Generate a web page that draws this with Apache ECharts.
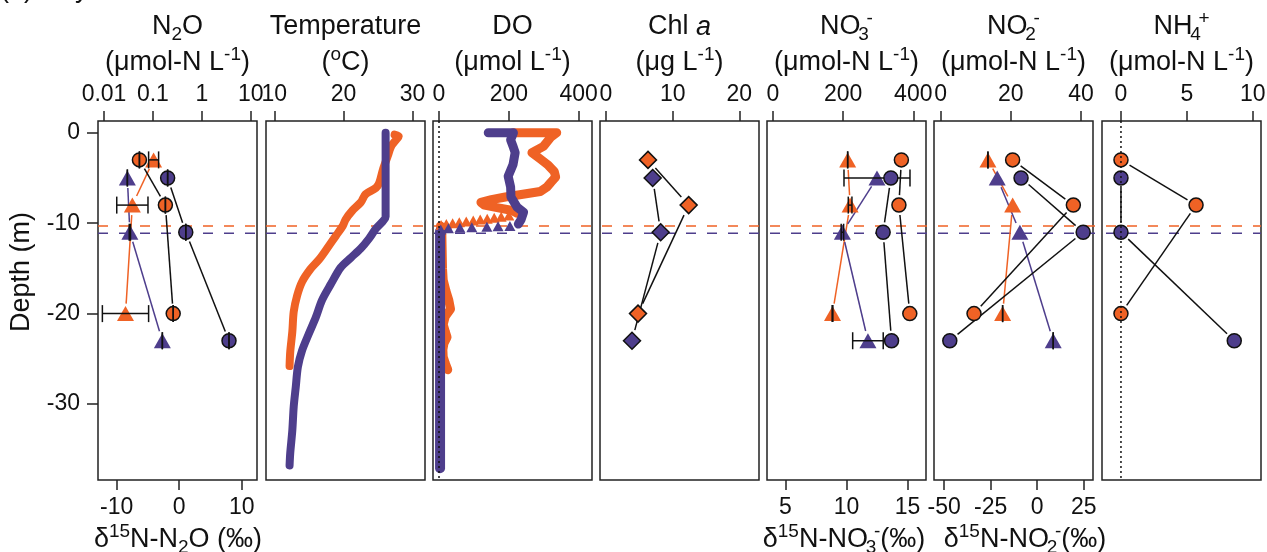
<!DOCTYPE html>
<html>
<head>
<meta charset="utf-8">
<script src="https://cdn.jsdelivr.net/npm/echarts@6.0.0/dist/echarts.min.js"></script>
<style>
  html, body { margin: 0; padding: 0; background: #fff; }
  #chart { width: 1267px; height: 552px; }
</style>
</head>
<body>
<div id="chart"></div>
<script>
// sample depths (m)
const depthOrange = [-3, -8, -20];
const depthPurple = [-5, -11, -23];
const depthTicks = [0, -10, -20, -30];
const mixedOrange = -10.3;
const mixedPurple = -11.1;

// N2O
const n2oTicks = [0.01, 0.1, 1, 10];
const d15N2OTicks = [-10, 0, 10];
const n2oOrange = [0.053, 0.18, 0.26];
const n2oPurple = [0.2, 0.47, 3.6];
const d15N2OOrange = [-4.1, -7.5, -8.6];
const d15N2OOrangeErr = [0.8, 2.5, 3.7];
const d15N2OPurple = [-8.3, -7.9, -2.7];
const d15N2OPurpleErr = [0, 0.1, 0];

// temperature profiles
const tempTicks = [10, 20, 30];
const tempOrangeDepth = [-0.2, -0.4, -0.8, -1.5, -2.6, -4.1, -5.5, -6.1, -6.8, -7.7, -8.6, -9.6, -10.3, -11.4, -12.5, -14.0, -15.1, -16.5, -18.0, -19.8, -22.0, -24.2, -25.8];
const tempOrange = [27.4, 28.0, 27.6, 26.9, 26.4, 25.7, 25.2, 24.7, 23.2, 22.5, 21.3, 20.3, 19.9, 18.9, 17.9, 16.5, 15.2, 14.0, 13.3, 12.8, 12.6, 12.3, 12.2];
const tempPurpleDepth = [0.0, -9.3, -9.8, -10.6, -11.7, -12.8, -13.8, -14.9, -16.7, -18.5, -20.4, -22.2, -24.1, -25.9, -28.1, -30.3, -32.9, -35.4, -36.8];
const tempPurple = [26.1, 26.1, 25.7, 24.7, 23.7, 22.5, 21.1, 19.6, 18.2, 16.9, 16.0, 15.0, 14.0, 13.4, 13.1, 12.8, 12.6, 12.3, 12.2];

// DO profiles
const doTicks = [0, 200, 400];
const doOrangeUpperDepth = [0, 0, -0.5, -1.5, -2.2, -2.9, -3.6, -4.3, -4.9, -5.5, -6.0, -6.5, -6.8, -7.1, -7.4, -7.7, -8.0, -8.3, -8.6, -8.9];
const doOrangeUpper = [213, 337, 320, 299, 266, 290, 313, 330, 334, 320, 309, 290, 240, 190, 150, 120, 130, 170, 210, 223];
const doOrangeStepDepth = [-9.15, -9.3, -9.4, -9.5, -9.6, -9.7, -9.8, -9.9, -10.0, -10.1, -10.2];
const doOrangeStep = [200, 178, 158, 138, 118, 98, 78, 58, 39, 21, 6];
const doOrangeDeepDepth = [-10.3, -11, -13, -15, -16.3, -17.5, -18.5, -19.5, -20.3, -21.2, -22.0, -22.6, -23.3, -24.0, -24.8, -25.5, -26.2];
const doOrangeDeep = [4, 8, 9, 10, 12, 20, 28, 33, 18, 12, 18, 23, 14, 11, 12, 18, 25];
const doPurpleUpperDepth = [0, 0, -0.8, -1.5, -2.2, -3.5, -4.8, -6.0, -7.1, -8.2, -8.8, -9.6, -10.1];
const doPurpleUpper = [141, 213, 205, 212, 218, 212, 198, 205, 206, 223, 242, 235, 227];
const doPurpleStepDepth = [-10.3, -10.35, -10.4, -10.45, -10.5, -10.55, -10.7];
const doPurpleStep = [203, 169, 137, 94, 60, 27, 5];
const doPurpleDeepDepth = [-10.9, -15, -20, -25, -30, -37.1];
const doPurpleDeep = [3, 3, 3, 3, 3, 3];

// Chl a
const chlTicks = [0, 10, 20];
const chlOrange = [6.3, 12.4, 4.8];
const chlPurple = [7.0, 8.2, 3.9];

// NO3-
const no3Ticks = [0, 200, 400];
const d15NO3Ticks = [5, 10, 15];
const no3Orange = [366, 359, 390];
const no3Purple = [336, 314, 338];
const d15NO3Orange = [10.1, 10.3, 8.86];
const d15NO3OrangeErr = [0, 0.15, 0.03];
const d15NO3Purple = [12.5, 9.67, 11.76];
const d15NO3PurpleErr = [2.7, 0.1, 1.25];

// NO2-
const no2Ticks = [0, 20, 40];
const d15NO2Ticks = [-50, -25, 0, 25];
const no2Orange = [20.5, 37.8, 9.5];
const no2Purple = [22.9, 40.6, 2.6];
const d15NO2Orange = [-26.5, -13.2, -18.6];
const d15NO2OrangeErr = [0, null, 0];
const d15NO2Purple = [-21.5, -9.3, 8.6];
const d15NO2PurpleErr = [null, null, 0];

// NH4+
const nh4Ticks = [0, 5, 10];
const nh4Orange = [0, 5.7, 0];
const nh4Purple = [0, 0, 8.6];

const ORANGE = '#EF6225';
const PURPLE = '#4E3E8C';
const INK = '#111';
const FONT = '"Liberation Sans", Arial, Helvetica, sans-serif';
const yMin = -38.4, yMax = 1.3;
const panelLeft = [98, 266, 433, 600, 767, 934, 1102];
const panelW = 159;

const pts = (xs, ys) => xs.map((x, i) => [x, ys[i]]);

function xAx(grid, pos, min, max, ticks, type) {
  const ax = {
    type: type || 'value', gridIndex: grid, position: pos, min: min, max: max,
    axisLine: { show: false, onZero: false }, splitLine: { show: false },
    axisTick: { show: true, length: 10, customValues: ticks, lineStyle: { color: '#222', width: 1.5 } },
    axisLabel: { customValues: ticks, fontSize: 23, color: INK, fontFamily: FONT, margin: pos === 'top' ? 15 : 16 }
  };
  if (type === 'log') ax.axisLabel.formatter = v => String(+(+v).toPrecision(6));
  return ax;
}

function scatter(xi, yi, xs, ys, symbol, size, color, border, z) {
  return {
    type: 'scatter', xAxisIndex: xi, yAxisIndex: yi, data: pts(xs, ys), z: z,
    symbol: symbol, symbolSize: size, silent: true,
    itemStyle: { color: color, borderColor: border ? INK : null, borderWidth: border ? 1.5 : 0, opacity: 1 }
  };
}

// R style type="b" line: segments stop short of the markers
function gapLine(xi, yi, xs, ys, color, z, gap) {
  const segs = [];
  for (let i = 0; i < xs.length - 1; i++) segs.push([xs[i], ys[i], xs[i + 1], ys[i + 1]]);
  return {
    type: 'custom', xAxisIndex: xi, yAxisIndex: yi, data: segs, silent: true, z: z,
    encode: { x: [0, 2], y: [1, 3] },
    renderItem: (params, api) => {
      const a = api.coord([api.value(0), api.value(1)]);
      const b = api.coord([api.value(2), api.value(3)]);
      const dx = b[0] - a[0], dy = b[1] - a[1];
      const len = Math.sqrt(dx * dx + dy * dy);
      const g = gap || 10;
      if (len <= 2 * g) return null;
      const ux = dx / len, uy = dy / len;
      return {
        type: 'line',
        shape: { x1: a[0] + ux * g, y1: a[1] + uy * g, x2: b[0] - ux * g, y2: b[1] - uy * g },
        style: { stroke: color, lineWidth: 1.5 }
      };
    }
  };
}

function errBars(xi, yi, xs, ys, errs, z) {
  const data = [];
  xs.forEach((x, i) => { if (errs[i] != null) data.push([x, ys[i], x - errs[i], x + errs[i]]); });
  return {
    type: 'custom', xAxisIndex: xi, yAxisIndex: yi, data: data, silent: true, z: z,
    encode: { x: [0, 2, 3], y: 1 },
    renderItem: (params, api) => {
      const y = api.value(1);
      const lo = api.coord([api.value(2), y]);
      const hi = api.coord([api.value(3), y]);
      const h = 8.5, st = { stroke: INK, lineWidth: 1.5 };
      return {
        type: 'group', children: [
          { type: 'line', shape: { x1: lo[0], y1: lo[1], x2: hi[0], y2: hi[1] }, style: st },
          { type: 'line', shape: { x1: lo[0], y1: lo[1] - h, x2: lo[0], y2: lo[1] + h }, style: st },
          { type: 'line', shape: { x1: hi[0], y1: hi[1] - h, x2: hi[0], y2: hi[1] + h }, style: st }
        ]
      };
    }
  };
}

function profile(xi, yi, xs, ys, color, width, smooth) {
  return {
    type: 'line', xAxisIndex: xi, yAxisIndex: yi, data: pts(xs, ys), symbol: 'none', silent: true,
    smooth: smooth || false, z: 2,
    lineStyle: { color: color, width: width, cap: 'round', join: 'round' }
  };
}

function refLine(xi, yi, data, color, dash, z) {
  return {
    type: 'line', xAxisIndex: xi, yAxisIndex: yi, data: data, symbol: 'none', silent: true, z: z,
    lineStyle: { color: color, width: 1.5, type: dash }
  };
}

const TRI = [17, 15];
const CIRC = 14;

const grids = panelLeft.map(l => ({
  left: l, top: 121, width: panelW, height: 359, show: true,
  borderColor: '#222', borderWidth: 1.5, backgroundColor: 'transparent', outerBoundsMode: 'none'
}));
grids.push({ left: 98, top: 121, width: 1163, height: 359, show: false, outerBoundsMode: 'none' });

const xAxes = [
  xAx(0, 'top', 0.00753, 13.46, n2oTicks, 'log'),
  xAx(0, 'bottom', -13.0, 12.45, d15N2OTicks),
  xAx(1, 'top', 8.79, 31.8, tempTicks),
  xAx(2, 'top', -17.2, 438, doTicks),
  xAx(3, 'top', -0.9, 22.95, chlTicks),
  xAx(4, 'top', -17.1, 436.2, no3Ticks),
  xAx(4, 'bottom', 3.5, 16.51, d15NO3Ticks),
  xAx(5, 'top', -1.9, 43.4, no2Ticks),
  xAx(5, 'bottom', -55.5, 30.0, d15NO2Ticks),
  xAx(6, 'top', -1.44, 10.63, nh4Ticks),
  { type: 'value', gridIndex: 7, min: 0, max: 1, show: false }
];

const yAxes = [];
for (let g = 0; g < 8; g++) {
  if (g === 0) {
    yAxes.push({
      type: 'value', gridIndex: 0, min: yMin, max: yMax,
      axisLine: { show: false, onZero: false }, splitLine: { show: false },
      axisTick: { show: true, length: 11, customValues: depthTicks, lineStyle: { color: '#222', width: 1.5 } },
      axisLabel: { customValues: depthTicks, fontSize: 23, color: INK, fontFamily: FONT, margin: 18 }
    });
  } else {
    yAxes.push({ type: 'value', gridIndex: g, min: yMin, max: yMax, show: false, axisLine: { onZero: false } });
  }
}

const series = [
  // mixed-layer depth lines across all panels
  refLine(10, 7, [[0, mixedOrange], [1, mixedOrange]], ORANGE, [10, 11], 1),
  refLine(10, 7, [[0, mixedPurple], [1, mixedPurple]], PURPLE, [10, 11], 1),

  // panel 1: N2O
  gapLine(1, 0, d15N2OOrange, depthOrange, ORANGE, 2),
  gapLine(1, 0, d15N2OPurple, depthPurple, PURPLE, 2),
  scatter(1, 0, d15N2OOrange, depthOrange, 'triangle', TRI, ORANGE, false, 3),
  scatter(1, 0, d15N2OPurple, depthPurple, 'triangle', TRI, PURPLE, false, 3),
  errBars(1, 0, d15N2OOrange, depthOrange, d15N2OOrangeErr, 4),
  errBars(1, 0, d15N2OPurple, depthPurple, d15N2OPurpleErr, 4),
  gapLine(0, 0, n2oOrange, depthOrange, INK, 5),
  gapLine(0, 0, n2oPurple, depthPurple, INK, 5),
  scatter(0, 0, n2oOrange, depthOrange, 'circle', CIRC, ORANGE, true, 6),
  scatter(0, 0, n2oPurple, depthPurple, 'circle', CIRC, PURPLE, true, 6),
  errBars(0, 0, n2oOrange, depthOrange, [0, 0, 0], 7),
  errBars(0, 0, n2oPurple, depthPurple, [0, 0, 0], 7),

  // panel 2: temperature
  profile(2, 1, tempOrange, tempOrangeDepth, ORANGE, 8, 0.3),
  profile(2, 1, tempPurple, tempPurpleDepth, PURPLE, 8, 0.3),

  // panel 3: DO
  profile(3, 2, doOrangeUpper, doOrangeUpperDepth, ORANGE, 9),
  scatter(3, 2, doOrangeStep, doOrangeStepDepth, 'triangle', [11, 10], ORANGE, false, 2),
  profile(3, 2, doOrangeDeep, doOrangeDeepDepth, ORANGE, 9),
  profile(3, 2, doPurpleUpper, doPurpleUpperDepth, PURPLE, 9),
  scatter(3, 2, doPurpleStep, doPurpleStepDepth, 'triangle', [11, 10], PURPLE, false, 2),
  profile(3, 2, doPurpleDeep, doPurpleDeepDepth, PURPLE, 10),
  refLine(3, 2, [[0, yMax], [0, yMin]], INK, [2, 3], 8),

  // panel 4: Chl a
  gapLine(4, 3, chlOrange, depthOrange, INK, 5, 11),
  gapLine(4, 3, chlPurple, depthPurple, INK, 5, 11),
  scatter(4, 3, chlOrange, depthOrange, 'diamond', 17, ORANGE, true, 6),
  scatter(4, 3, chlPurple, depthPurple, 'diamond', 17, PURPLE, true, 6),

  // panel 5: NO3-
  gapLine(6, 4, d15NO3Orange, depthOrange, ORANGE, 2),
  gapLine(6, 4, d15NO3Purple, depthPurple, PURPLE, 2),
  scatter(6, 4, d15NO3Orange, depthOrange, 'triangle', TRI, ORANGE, false, 3),
  scatter(6, 4, d15NO3Purple, depthPurple, 'triangle', TRI, PURPLE, false, 3),
  errBars(6, 4, d15NO3Orange, depthOrange, d15NO3OrangeErr, 4),
  errBars(6, 4, d15NO3Purple, depthPurple, d15NO3PurpleErr, 4),
  gapLine(5, 4, no3Orange, depthOrange, INK, 5),
  gapLine(5, 4, no3Purple, depthPurple, INK, 5),
  scatter(5, 4, no3Orange, depthOrange, 'circle', CIRC, ORANGE, true, 6),
  scatter(5, 4, no3Purple, depthPurple, 'circle', CIRC, PURPLE, true, 6),

  // panel 6: NO2-
  gapLine(8, 5, d15NO2Orange, depthOrange, ORANGE, 2),
  gapLine(8, 5, d15NO2Purple, depthPurple, PURPLE, 2),
  scatter(8, 5, d15NO2Orange, depthOrange, 'triangle', TRI, ORANGE, false, 3),
  scatter(8, 5, d15NO2Purple, depthPurple, 'triangle', TRI, PURPLE, false, 3),
  errBars(8, 5, d15NO2Orange, depthOrange, d15NO2OrangeErr, 4),
  errBars(8, 5, d15NO2Purple, depthPurple, d15NO2PurpleErr, 4),
  gapLine(7, 5, no2Orange, depthOrange, INK, 5),
  gapLine(7, 5, no2Purple, depthPurple, INK, 5),
  scatter(7, 5, no2Orange, depthOrange, 'circle', CIRC, ORANGE, true, 6),
  scatter(7, 5, no2Purple, depthPurple, 'circle', CIRC, PURPLE, true, 6),

  // panel 7: NH4+
  gapLine(9, 6, nh4Orange, depthOrange, INK, 5),
  gapLine(9, 6, nh4Purple, depthPurple, INK, 5),
  scatter(9, 6, nh4Orange, depthOrange, 'circle', CIRC, ORANGE, true, 6),
  scatter(9, 6, nh4Purple, depthPurple, 'circle', CIRC, PURPLE, true, 6),
  refLine(9, 6, [[0, yMax], [0, yMin]], INK, [2, 3], 8)
];

const RICH = {
  sub: { fontSize: 19, verticalAlign: 'bottom', lineHeight: 35, fontFamily: FONT, fill: INK },
  subn: { fontSize: 19, verticalAlign: 'bottom', lineHeight: 35, width: 6, fontFamily: FONT, fill: INK },
  sup: { fontSize: 19, verticalAlign: 'top', lineHeight: 35, fontFamily: FONT, fill: INK },
  it: { fontSize: 27, fontStyle: 'italic', fontFamily: FONT, fill: INK }
};

function txt(x, y, text, extra) {
  return Object.assign({
    type: 'text', x: x, y: y, silent: true,
    style: {
      text: text, rich: RICH, fontSize: 27, fontFamily: FONT, fill: INK,
      textAlign: 'center', textVerticalAlign: 'middle', lineHeight: 35
    }
  }, extra || {});
}

const centers = panelLeft.map(l => l + panelW / 2);
const titles1 = ['N{sub|2}O', 'Temperature', 'DO', 'Chl {it|a}', 'NO{subn|3}{sup|-}', 'NO{subn|2}{sup|-}', 'NH{subn|4}{sup|+}'];
const titles2 = ['(μmol-N L{sup|-1})', '({sup|o}C)', '(μmol L{sup|-1})', '(μg L{sup|-1})', '(μmol-N L{sup|-1})', '(μmol-N L{sup|-1})', '(μmol-N L{sup|-1})'];

const graphics = [];
centers.forEach((c, i) => {
  graphics.push(txt(c, 27, titles1[i]));
  graphics.push(txt(c, 63, titles2[i]));
});
graphics.push(txt(178, 540, 'δ{sup|15}N-N{sub|2}O (‰)'));
graphics.push(txt(844, 540, 'δ{sup|15}N-NO{subn|3}{sup|-}(‰)'));
graphics.push(txt(1025, 540, 'δ{sup|15}N-NO{subn|2}{sup|-}(‰)'));
graphics.push(txt(22, 272, 'Depth (m)', { rotation: Math.PI / 2 }));
graphics.push({
  type: 'text', x: 0, y: 3, silent: true,
  style: { text: '(a) July', fontSize: 27, fontFamily: FONT, fill: INK, textAlign: 'left', textVerticalAlign: 'bottom' }
});

const chart = echarts.init(document.getElementById('chart'), null, { renderer: 'canvas' });
chart.setOption({
  animation: false,
  backgroundColor: '#fff',
  grid: grids,
  xAxis: xAxes,
  yAxis: yAxes,
  series: series,
  graphic: { elements: graphics }
});
</script>
</body>
</html>
